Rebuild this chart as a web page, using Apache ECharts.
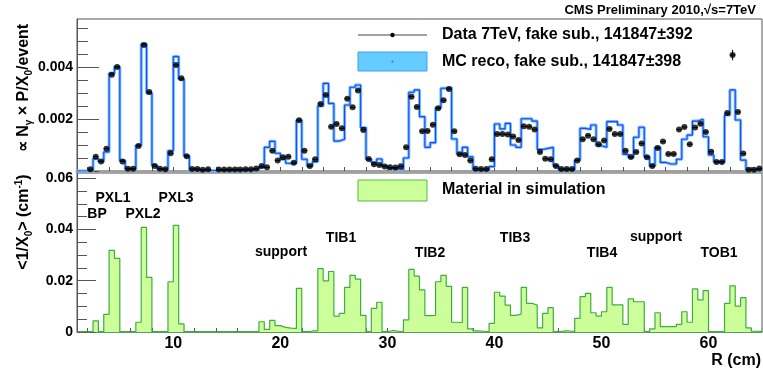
<!DOCTYPE html>
<html>
<head>
<meta charset="utf-8">
<script src="https://cdn.jsdelivr.net/npm/echarts@6/dist/echarts.min.js"></script>
<style>
html, body { margin: 0; padding: 0; background: #fff; }
#chart { width: 763px; height: 372px; }
</style>
</head>
<body>
<div id="chart"></div>
<script>
// histogram binning in R (cm)
const binStart = 1;
const binWidth = 0.5;

// data 7TeV, photon conversions per bin (null = no point drawn)
const dataVals = [
  null, null, 0.00007, 0.00055, 0.00037, 0.00086, 0.0037, 0.0040, 0.00037, 0.00009, 0.00009, 0.00096, 0.00485, 0.00304, 0.00019, 0.00009,
  0.00007, 0.00068, 0.00408, 0.00357, 0.00057, 0.00008, 0.00008, 0.00005, 0.00007, null, 0.00006, 0.00006, 0.00006, 0.00006, 0.00006, 0.00007,
  0.00007, 0.0001, 0.00019, 0.00014, 0.00078, 0.0004, 0.00053, 0.00055, 0.00032, 0.00195, 0.00078, 0.00019, 0.00045, 0.00258, 0.00292, 0.0017,
  0.00181, 0.00164, 0.00278, 0.00245, 0.0031, 0.00158, 0.00046, 0.00026, 0.00023, 0.00017, 0.00014, 0.00013, 0.00018, 0.00091, 0.00286, 0.00246,
  0.00153, 0.00154, 0.00178, 0.00241, 0.00272, 0.00315, 0.00153, 0.00064, 0.00062, 0.0004, 0.00009, 0.00008, 0.00008, 0.00045, 0.00142, 0.00142,
  0.0014, 0.00133, 0.00119, 0.00172, 0.0017, 0.0016, 0.00073, 0.00047, 0.00045, 0.00019, 0.00008, 0.00008, 0.00008, 0.0004, 0.00122, 0.00136,
  0.00122, 0.00103, 0.00117, 0.00162, 0.00142, 0.00142, 0.00078, 0.00054, 0.00073, 0.00106, 0.00053, 0.00019, 0.00088, 0.00113, 0.00065, 0.00065,
  0.0016, 0.00169, 0.00103, 0.00167, 0.00182, 0.0015, 0.00074, 0.00035, 0.00035, 0.00223, 0.00446, 0.00227, 0.00067, 0.00005, 0.00005, 0.0001
];

// MC reco
const mcVals = [
  0, 0, 0.00002, 0.00047, 0.00037, 0.00073, 0.00376, 0.00401, 0.0004, 0.00008, 0.00008, 0.00099, 0.00488, 0.00299, 0.00022, 0.00007,
  0.00007, 0.00078, 0.0044, 0.00353, 0.00058, 0.00004, 0.00003, 0.00003, 0.00002, 0.00001, 0.00003, 0.00003, 0.00003, 0.00003, 0.00003, 0.00004,
  0.00004, 0.00004, 0.00014, 0.00091, 0.00114, 0.00068, 0.00045, 0.0003, 0.0003, 0.00195, 0.00045, 0.00019, 0.00036, 0.0025, 0.00337, 0.0026,
  0.00115, 0.00122, 0.00254, 0.00322, 0.00331, 0.00167, 0.00045, 0.00032, 0.00046, 0.00019, 0.0001, 0.00008, 0.00005, 0.0005, 0.00303, 0.00312,
  0.00209, 0.00091, 0.00109, 0.00243, 0.00318, 0.0032, 0.00123, 0.00065, 0.00091, 0.00055, 0.00003, 0.00003, 0.00003, 0.00017, 0.00181, 0.00162,
  0.00183, 0.001, 0.00091, 0.00201, 0.00201, 0.00192, 0.00083, 0.00087, 0.00091, 0.00019, 0.00003, 0.00003, 0.00003, 0.00042, 0.00164, 0.0016,
  0.00177, 0.00097, 0.00091, 0.0019, 0.0019, 0.00177, 0.00064, 0.00053, 0.0013, 0.00168, 0.00055, 0.00019, 0.00091, 0.00033, 0.00027, 0.00027,
  0.00045, 0.00122, 0.00138, 0.00192, 0.00199, 0.00132, 0.00062, 0.00035, 0.00035, 0.00215, 0.00312, 0.00196, 0.00042, 0.00006, 0.00005, 0.00005
];

// material in simulation, <1/X0> (cm-1)
const matVals = [
  0, 0, 0, 0.0043, 0, 0.0069, 0.0318, 0.0287, 0, 0, 0, 0.0038, 0.0408, 0.0213, 0, 0,
  0, 0.0196, 0.0416, 0.0032, 0, 0, 0, 0, 0, 0, 0, 0, 0, 0, 0, 0,
  0, 0, 0.004, 0.001, 0.0045, 0.0025, 0.0018, 0.0015, 0.0014, 0.017, 0, 0.0004, 0.0004, 0.0247, 0.0199, 0.0236,
  0.0062, 0.0073, 0.0174, 0.0221, 0.0206, 0.0065, 0, 0.0092, 0.0116, 0, 0.0006, 0.0003, 0, 0.0047, 0.0244, 0.0218,
  0.0164, 0.0064, 0.0065, 0.0196, 0.0221, 0.0178, 0.0038, 0.0036, 0.0174, 0.0012, 0.0004, 0.0003, 0, 0.0034, 0.0155, 0.014,
  0.0105, 0.0065, 0.007, 0.0174, 0.0112, 0.0105, 0.0016, 0.0073, 0.0095, 0, 0.0004, 0.0004, 0.0002, 0.0053, 0.0138, 0.0151,
  0.0075, 0.0062, 0.0079, 0.0174, 0.0106, 0.0106, 0.003, 0.0129, 0.0118, 0.0118, 0, 0.0012, 0.0075, 0.0021, 0.0021, 0.0021,
  0.003, 0.0079, 0.0038, 0.0168, 0.0125, 0.0161, 0, 0, 0, 0.0112, 0.018, 0.0101, 0.0134, 0.0016, 0.0003, 0.0003
];

// visible vertical error bars on data
const dataErrBins = [122];
const dataErrVals = [0.0002];

// axis ticks and labels
const rTickLabels = [10, 20, 30, 40, 50, 60];
const rTicks = [2, 4, 6, 8, 10, 12, 14, 16, 18, 20, 22, 24, 26, 28, 30, 32, 34, 36, 38, 40, 42, 44, 46, 48, 50, 52, 54, 56, 58, 60, 62, 64];
const topYLabels = [0.002, 0.004];
const topYMajor = [0, 0.002, 0.004];
const topYMinor = [0.0005, 0.001, 0.0015, 0.0025, 0.003, 0.0035, 0.0045, 0.005, 0.0055];
const botYLabels = [0, 0.02, 0.04, 0.06];
const botYMinor = [0.005, 0.01, 0.015, 0.025, 0.03, 0.035, 0.045, 0.05, 0.055];

const FONT = "'Liberation Sans', Arial, sans-serif";

function stepPoints(vals) {
  const pts = vals.map((v, i) => [binStart + i * binWidth, v]);
  pts.push([binStart + vals.length * binWidth, vals[vals.length - 1]]);
  return pts;
}
const dataPts = [];
const dataXErr = [];
dataVals.forEach((v, i) => {
  if (v == null) return;
  const lo = binStart + i * binWidth;
  dataPts.push([lo + binWidth / 2, v]);
  dataXErr.push([lo, lo + binWidth, v]);
});
const dataYErr = dataErrBins.map((b, k) => [binStart + (b + 0.5) * binWidth, dataVals[b], dataErrVals[k]]);

const tickLabelStyle = { color: '#000', fontFamily: FONT, fontWeight: 'bold', fontSize: 14, margin: 4, formatter: v => String(v) };

function yAxes(grid, max, labels, major, minor, majLen, minLen) {
  return [{
    gridIndex: grid, type: 'value', min: 0, max: max,
    axisLine: { show: true, lineStyle: { color: '#555', width: 1 } },
    axisTick: { show: true, inside: true, length: majLen, customValues: major, lineStyle: { color: '#555' } },
    axisLabel: Object.assign({ customValues: labels }, tickLabelStyle),
    splitLine: { show: false }
  }, {
    gridIndex: grid, type: 'value', min: 0, max: max, position: 'left', offset: 0,
    axisLine: { show: false },
    axisTick: { show: true, inside: true, length: minLen, customValues: minor, lineStyle: { color: '#555' } },
    axisLabel: { show: false },
    splitLine: { show: false }
  }];
}

const chart = echarts.init(document.getElementById('chart'), null, { renderer: 'canvas' });
chart.setOption({
  animation: false,
  backgroundColor: '#fff',
  grid: [
    { left: 77, top: 19, width: 685, height: 152, show: true, borderColor: '#555', borderWidth: 1 },
    { left: 77, top: 173, width: 685, height: 159, show: true, borderColor: '#555', borderWidth: 1 }
  ],
  xAxis: [{
    gridIndex: 0, type: 'value', min: 1, max: 65,
    axisLine: { lineStyle: { color: '#a0a0a0', width: 3 } },
    axisTick: { inside: true, length: 4, customValues: rTicks, lineStyle: { color: '#555' } },
    axisLabel: { show: false },
    splitLine: { show: false }
  }, {
    gridIndex: 1, type: 'value', min: 1, max: 65,
    axisLine: { lineStyle: { color: '#3c9c3c', width: 1.5 } },
    axisTick: { inside: true, length: 4, customValues: rTicks, lineStyle: { color: '#555' } },
    axisLabel: { customValues: rTickLabels, color: '#000', fontFamily: FONT, fontWeight: 'bold', fontSize: 16, margin: 4 },
    splitLine: { show: false }
  }],
  yAxis: [
    ...yAxes(0, 0.005846, topYLabels, topYMajor, topYMinor, 22, 11),
    ...yAxes(1, 0.062, botYLabels, botYLabels, botYMinor, 19, 10)
  ],
  series: [{
    name: 'MC band', type: 'line', xAxisIndex: 0, yAxisIndex: 0, step: 'end',
    data: stepPoints(mcVals), symbol: 'none',
    lineStyle: { color: '#5cc6fa', width: 3 }, z: 2
  }, {
    name: 'MC reco', type: 'line', xAxisIndex: 0, yAxisIndex: 0, step: 'end',
    data: stepPoints(mcVals), symbol: 'none',
    lineStyle: { color: '#3a3aff', width: 1.1 }, z: 3
  }, {
    name: 'Data x err', type: 'custom', xAxisIndex: 0, yAxisIndex: 0, z: 4,
    data: dataXErr,
    renderItem: (params, api) => {
      const a = api.coord([api.value(0), api.value(2)]);
      const b = api.coord([api.value(1), api.value(2)]);
      return { type: 'line', shape: { x1: a[0], y1: a[1], x2: b[0], y2: b[1] }, style: { stroke: '#000', lineWidth: 1 } };
    }
  }, {
    name: 'Data y err', type: 'custom', xAxisIndex: 0, yAxisIndex: 0, z: 4,
    data: dataYErr,
    renderItem: (params, api) => {
      const a = api.coord([api.value(0), api.value(1) - api.value(2)]);
      const b = api.coord([api.value(0), api.value(1) + api.value(2)]);
      return { type: 'line', shape: { x1: a[0], y1: a[1], x2: b[0], y2: b[1] }, style: { stroke: '#000', lineWidth: 1 } };
    }
  }, {
    name: 'Data 7TeV', type: 'scatter', xAxisIndex: 0, yAxisIndex: 0, z: 5,
    data: dataPts, symbol: 'circle', symbolSize: 6,
    itemStyle: { color: '#000' }
  }, {
    name: 'Material', type: 'line', xAxisIndex: 1, yAxisIndex: 2, step: 'end',
    data: stepPoints(matVals), symbol: 'none',
    lineStyle: { color: '#3fae3f', width: 1.2 },
    areaStyle: { color: '#ccff99', opacity: 1 }
  }],
  graphic: [
    { type: 'text', x: 756, y: 10, style: { text: 'CMS Preliminary 2010,√s=7TeV', font: 'bold 13px ' + FONT, fill: '#000', align: 'right', verticalAlign: 'middle' } },
    // legend top
    { type: 'line', shape: { x1: 358, y1: 35, x2: 427, y2: 35 }, style: { stroke: '#444', lineWidth: 1 } },
    { type: 'circle', shape: { cx: 392.5, cy: 35, r: 2.2 }, style: { fill: '#000' } },
    { type: 'text', x: 442, y: 35, style: { text: 'Data 7TeV, fake sub., 141847±392', font: 'bold 16px ' + FONT, fill: '#000', verticalAlign: 'middle' } },
    { type: 'rect', shape: { x: 358, y: 52, width: 69, height: 19 }, style: { fill: '#66ccff', stroke: '#3fa2ec', lineWidth: 1 } },
    { type: 'circle', shape: { cx: 392.5, cy: 61.5, r: 1 }, style: { fill: '#3366ff' } },
    { type: 'text', x: 442, y: 62, style: { text: 'MC reco, fake sub., 141847±398', font: 'bold 16px ' + FONT, fill: '#000', verticalAlign: 'middle' } },
    // legend bottom
    { type: 'rect', shape: { x: 358, y: 180, width: 69, height: 21 }, style: { fill: '#ccff99', stroke: '#55bb44', lineWidth: 1 } },
    { type: 'text', x: 442, y: 190, style: { text: 'Material in simulation', font: 'bold 16px ' + FONT, fill: '#000', verticalAlign: 'middle' } },
    // axis titles
    { type: 'text', x: 24, y: 88, rotation: Math.PI / 2, style: {
      text: '{a|∝ N}{s|γ}{a| × P/X}{s|0}{a|/event}', align: 'center', verticalAlign: 'middle',
      rich: { a: { font: 'bold 16px ' + FONT, fill: '#000', lineHeight: 20 }, s: { font: 'bold 10px ' + FONT, fill: '#000', verticalAlign: 'bottom', lineHeight: 20 } } } },
    { type: 'text', x: 24, y: 222, rotation: Math.PI / 2, style: {
      text: '{a|<1/X}{s|0}{a|> (cm}{p|-1}{a|)}', align: 'center', verticalAlign: 'middle',
      rich: { a: { font: 'bold 16px ' + FONT, fill: '#000', lineHeight: 20 }, s: { font: 'bold 10px ' + FONT, fill: '#000', verticalAlign: 'bottom', lineHeight: 20 }, p: { font: 'bold 10px ' + FONT, fill: '#000', verticalAlign: 'top', lineHeight: 20 } } } },
    { type: 'text', x: 761, y: 361, style: { text: 'R (cm)', font: 'bold 16px ' + FONT, fill: '#000', align: 'right', verticalAlign: 'middle' } },
    // detector layer labels
    { type: 'text', x: 97, y: 214, style: { text: 'BP', font: 'bold 14px ' + FONT, fill: '#000', align: 'center', verticalAlign: 'middle' } },
    { type: 'text', x: 113, y: 198, style: { text: 'PXL1', font: 'bold 14px ' + FONT, fill: '#000', align: 'center', verticalAlign: 'middle' } },
    { type: 'text', x: 143, y: 214, style: { text: 'PXL2', font: 'bold 14px ' + FONT, fill: '#000', align: 'center', verticalAlign: 'middle' } },
    { type: 'text', x: 176, y: 198, style: { text: 'PXL3', font: 'bold 14px ' + FONT, fill: '#000', align: 'center', verticalAlign: 'middle' } },
    { type: 'text', x: 281, y: 252, style: { text: 'support', font: 'bold 14px ' + FONT, fill: '#000', align: 'center', verticalAlign: 'middle' } },
    { type: 'text', x: 341, y: 238, style: { text: 'TIB1', font: 'bold 14px ' + FONT, fill: '#000', align: 'center', verticalAlign: 'middle' } },
    { type: 'text', x: 430, y: 253, style: { text: 'TIB2', font: 'bold 14px ' + FONT, fill: '#000', align: 'center', verticalAlign: 'middle' } },
    { type: 'text', x: 515, y: 238, style: { text: 'TIB3', font: 'bold 14px ' + FONT, fill: '#000', align: 'center', verticalAlign: 'middle' } },
    { type: 'text', x: 602, y: 253, style: { text: 'TIB4', font: 'bold 14px ' + FONT, fill: '#000', align: 'center', verticalAlign: 'middle' } },
    { type: 'text', x: 656, y: 237, style: { text: 'support', font: 'bold 14px ' + FONT, fill: '#000', align: 'center', verticalAlign: 'middle' } },
    { type: 'text', x: 719, y: 253, style: { text: 'TOB1', font: 'bold 14px ' + FONT, fill: '#000', align: 'center', verticalAlign: 'middle' } }
  ]
});
</script>
</body>
</html>
